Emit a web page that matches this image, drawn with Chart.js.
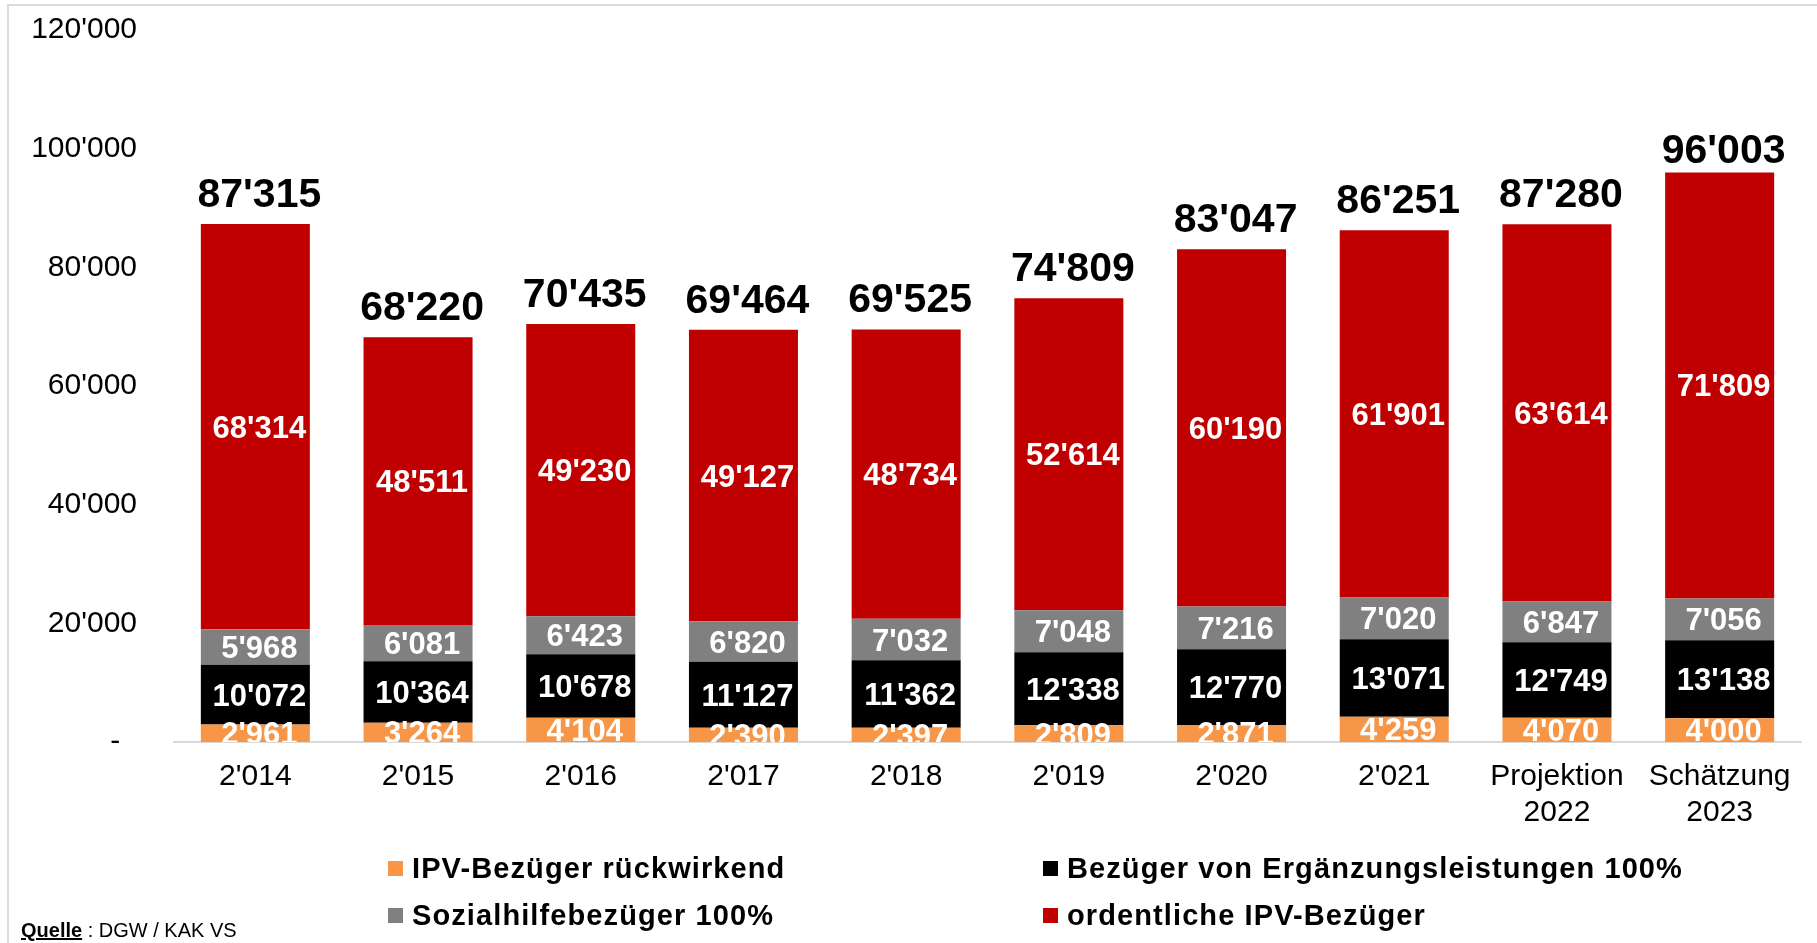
<!DOCTYPE html>
<html>
<head>
<meta charset="utf-8">
<script src="https://cdn.jsdelivr.net/npm/chart.js@4"></script>
<style>
  html, body { margin: 0; padding: 0; background: #fff; }
  body { width: 1817px; height: 943px; position: relative; overflow: hidden; font-family: "Liberation Sans", Arial, sans-serif; }
  #frame { position: absolute; left: 7px; top: 4px; width: 1830px; height: 960px; border-left: 2px solid #dcdcdc; border-top: 2px solid #dcdcdc; }
  #wrap { position: absolute; left: 0; top: 0; width: 1817px; height: 943px; }
  .leg { position: absolute; height: 30px; display: flex; align-items: center; font-weight: bold; font-size: 29px; letter-spacing: 1.1px; color: #000; white-space: nowrap; }
  .leg .box { width: 15px; height: 15px; margin-right: 9px; flex: none; }
  #src { position: absolute; left: 21px; top: 919px; font-size: 20px; color: #000; white-space: nowrap; }
  #src b { text-decoration: underline; }
</style>
</head>
<body>
<div id="frame"></div>
<div id="wrap"><canvas id="c" width="1817" height="943"></canvas></div>
<div id="legend"></div>
<div id="src"><b>Quelle</b> : DGW / KAK VS</div>
<script>
const categories = [["2'014"], ["2'015"], ["2'016"], ["2'017"], ["2'018"], ["2'019"], ["2'020"], ["2'021"], ["Projektion", "2022"], ["Schätzung", "2023"]];
const rueckwirkend = [2961, 3264, 4104, 2390, 2397, 2809, 2871, 4259, 4070, 4000];
const ergaenzung = [10072, 10364, 10678, 11127, 11362, 12338, 12770, 13071, 12749, 13138];
const sozialhilfe = [5968, 6081, 6423, 6820, 7032, 7048, 7216, 7020, 6847, 7056];
const ordentlich = [68314, 48511, 49230, 49127, 48734, 52614, 60190, 61901, 63614, 71809];
const totals = [87315, 68220, 70435, 69464, 69525, 74809, 83047, 86251, 87280, 96003];
const yTicks = [0, 20000, 40000, 60000, 80000, 100000, 120000];

const seriesNames = ["IPV-Bezüger rückwirkend", "Bezüger von Ergänzungsleistungen 100%", "Sozialhilfebezüger 100%", "ordentliche IPV-Bezüger"];
const seriesColors = ["#F79646", "#000000", "#808080", "#C00000"];
const seriesData = [rueckwirkend, ergaenzung, sozialhilfe, ordentlich];

const FONT = '"Liberation Sans", Arial, sans-serif';
function fmt(v) {
  if (v === 0) return "-  ";
  return String(v).replace(/\B(?=(\d{3})+(?!\d))/g, "'");
}

const labelPlugin = {
  id: 'labels',
  afterDatasetsDraw(chart) {
    const ctx = chart.ctx;
    const area = chart.chartArea;
    ctx.save();
    ctx.beginPath();
    ctx.rect(area.left, area.top - 200, area.right - area.left, area.bottom - area.top + 200);
    ctx.clip();
    ctx.textAlign = 'center';
    ctx.textBaseline = 'alphabetic';
    ctx.fillStyle = '#fff';
    ctx.font = 'bold 31px ' + FONT;
    chart.data.datasets.forEach((ds, di) => {
      const meta = chart.getDatasetMeta(di);
      meta.data.forEach((bar, i) => {
        const top = Math.min(bar.y, bar.base), bot = Math.max(bar.y, bar.base);
        const cy = (top + bot) / 2;
        ctx.fillText(fmt(ds.data[i]), bar.x + 4, cy + 11);
      });
    });
    const lastMeta = chart.getDatasetMeta(chart.data.datasets.length - 1);
    ctx.fillStyle = '#000';
    ctx.font = 'bold 41px ' + FONT;
    const minBaseline = area.top + 133;
    lastMeta.data.forEach((bar, i) => {
      ctx.fillText(fmt(totals[i]), bar.x + 4, Math.max(bar.y - 17, minBaseline));
    });
    ctx.restore();
  }
};

new Chart(document.getElementById('c'), {
  type: 'bar',
  data: {
    labels: categories,
    datasets: seriesNames.map((n, k) => ({
      label: n,
      data: seriesData[k],
      backgroundColor: seriesColors[k],
      borderWidth: 0,
      barPercentage: 0.67,
      categoryPercentage: 1.0
    }))
  },
  options: {
    responsive: false,
    animation: false,
    layout: { padding: { top: 30, right: 16, bottom: 0, left: 0 } },
    plugins: { legend: { display: false }, tooltip: { enabled: false } },
    scales: {
      x: {
        stacked: true,
        grid: { display: false, drawTicks: false },
        border: { display: true, color: '#d9d9d9', width: 2 },
        ticks: { color: '#000', font: { family: FONT, size: 30 }, padding: 17, maxRotation: 0, autoSkip: false },
        afterFit(s) { s.height = 201; }
      },
      y: {
        stacked: true,
        min: 0, max: 120000,
        afterBuildTicks(s) { s.ticks = yTicks.map(v => ({ value: v })); },
        grid: { display: false, drawTicks: false },
        border: { display: false },
        ticks: { color: '#000', font: { family: FONT, size: 30 }, padding: 37, callback: v => fmt(v) },
        afterFit(s) { s.width = 174; s.paddingTop = 0; s.paddingBottom = 0; }
      }
    }
  },
  plugins: [labelPlugin]
});

const legend = document.getElementById('legend');
const legPos = [[388, 853], [1043, 853], [388, 900], [1043, 900]];
seriesNames.forEach((n, k) => {
  const d = document.createElement('div');
  d.className = 'leg';
  d.style.left = legPos[k][0] + 'px';
  d.style.top = legPos[k][1] + 'px';
  const b = document.createElement('span');
  b.className = 'box';
  b.style.background = seriesColors[k];
  d.appendChild(b);
  d.appendChild(document.createTextNode(n));
  legend.appendChild(d);
});
</script>
</body>
</html>
